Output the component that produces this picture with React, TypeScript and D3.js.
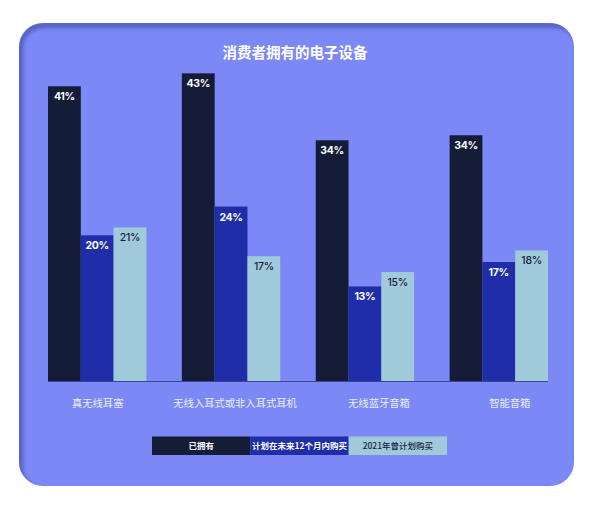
import * as d3 from "d3";

const categories = ["真无线耳塞", "无线入耳式或非入耳式耳机", "无线蓝牙音箱", "智能音箱"];
const seriesNames = ["已拥有", "计划在未来12个月内购买", "2021年曾计划购买"];
// bar heights; labels show them rounded
const owned = [41.0, 42.8, 33.5, 34.2];
const planNext12 = [20.3, 24.3, 13.2, 16.6];
const planned2021 = [21.4, 17.4, 15.2, 18.2];

const colors = ["#141c38", "#1f2da8", "#a0cad9"];
const labelColors = ["#ffffff", "#ffffff", "#1a2040"];
// category labels are not quite centred under their groups in the original
const labelNudge = [0.5, 4, 14, 11];

function App() {
	const W = 595;
	const H = 506;
	const card = { x: 19, y: 23, w: 555, h: 463, r: 24 };
	const baseline = 381.5;

	const series = [owned, planNext12, planned2021];
	const fmt = d3.format(".0f");

	const x0 = d3
		.scaleBand()
		.domain(categories)
		.range([48, 548])
		.paddingInner(0.265)
		.paddingOuter(0);
	const x1 = d3
		.scaleBand()
		.domain(seriesNames)
		.range([0, x0.bandwidth()]);
	const y = d3.scaleLinear().domain([0, 50]).range([baseline, 21.5]);

	const legendX = d3
		.scaleBand()
		.domain(seriesNames)
		.range([152, 447]);

	return (
		<svg
			width={W}
			height={H}
			style={{ position: "absolute", left: 0, top: 0, background: "#ffffff" }}
		>
			<defs>
				<clipPath id="cardClip">
					<rect x={card.x} y={card.y} width={card.w} height={card.h} rx={card.r} />
				</clipPath>
				<filter id="blur" x="-10%" y="-10%" width="120%" height="120%">
					<feGaussianBlur stdDeviation="2" />
				</filter>
			</defs>

			<rect x={card.x} y={card.y} width={card.w} height={card.h} rx={card.r} fill="#7b88f6" />
			{/* inner shadow along top / left edge */}
			<g clipPath="url(#cardClip)">
				<rect
					x={card.x + 1}
					y={card.y + 2}
					width={card.w + 4}
					height={card.h + 4}
					rx={card.r}
					fill="none"
					stroke="#3b4599"
					strokeWidth={5}
					opacity={0.7}
					filter="url(#blur)"
				/>
			</g>

			<text
				x={295}
				y={58}
				textAnchor="middle"
				fill="#ffffff"
				fontFamily="'Noto Sans CJK SC', sans-serif"
				fontWeight={700}
				fontSize={14.5}
			>
				消费者拥有的电子设备
			</text>

			{categories.map((c, i) => (
				<g key={c} transform={`translate(${x0(c)},0)`}>
					{series.map((s, j) => {
						const bx = x1(seriesNames[j])!;
						const top = y(s[i]);
						return (
							<g key={j}>
								<rect
									x={bx}
									y={top}
									width={x1.bandwidth()}
									height={baseline - top}
									fill={colors[j]}
								/>
								<text
									x={bx + x1.bandwidth() / 2}
									y={top + 14}
									textAnchor="middle"
									fill={labelColors[j]}
									fontFamily="Inter, 'Noto Sans', sans-serif"
									fontWeight={j === 2 ? 500 : 700}
									fontSize={10.5}
									letterSpacing={-0.3}
								>
									{fmt(s[i]) + "%"}
								</text>
							</g>
						);
					})}
					<text
						x={x0.bandwidth() / 2 + labelNudge[i]}
						y={407}
						textAnchor="middle"
						fill="#eceeff"
						fontFamily="'Noto Sans CJK SC', sans-serif"
						fontSize={10.3}
					>
						{c}
					</text>
				</g>
			))}

			<line x1={48} x2={548} y1={baseline} y2={baseline} stroke="#3c4690" strokeWidth={1} />

			{seriesNames.map((n, j) => (
				<g key={n}>
					<rect
						x={legendX(n)}
						y={436.5}
						width={legendX.bandwidth()}
						height={18.5}
						fill={colors[j]}
					/>
					<text
						x={legendX(n)! + legendX.bandwidth() / 2}
						y={449}
						textAnchor="middle"
						fill={labelColors[j]}
						fontFamily="'Noto Sans CJK SC', sans-serif"
						fontWeight={j === 2 ? 500 : 700}
						fontSize={8.5}
					>
						{n}
					</text>
				</g>
			))}
		</svg>
	);
}

export default App;
